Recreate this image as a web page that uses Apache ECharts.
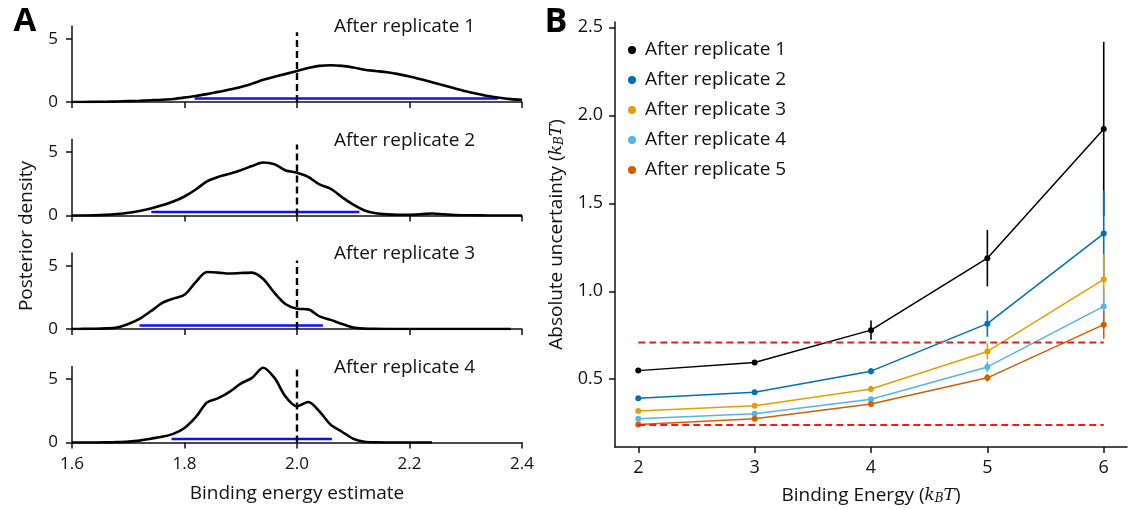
<!DOCTYPE html>
<html><head><meta charset="utf-8">
<script src="https://cdn.jsdelivr.net/npm/echarts/dist/echarts.min.js"></script>
<style>html,body{margin:0;padding:0;background:#fff}#c{width:1132px;height:510px}</style>
</head><body><div id="c"></div>
<script>
// ---------- Panel A data ----------
const densityX = [1.60,1.62,1.64,1.66,1.68,1.70,1.72,1.74,1.76,1.78,1.80,1.82,1.84,1.86,1.88,1.90,1.92,1.94,1.96,1.98,2.00,2.02,2.04,2.06,2.08,2.10,2.12,2.14,2.16,2.18,2.20,2.22,2.24,2.26,2.28,2.30,2.32,2.34,2.36,2.38,2.40];
const density1 = [0.00,0.00,0.01,0.02,0.04,0.07,0.10,0.14,0.18,0.24,0.35,0.48,0.62,0.80,0.98,1.18,1.45,1.75,2.00,2.22,2.45,2.68,2.85,2.90,2.85,2.72,2.55,2.45,2.35,2.20,2.02,1.80,1.56,1.32,1.08,0.85,0.65,0.47,0.33,0.23,0.17];
const density2 = [0,0,0.01,0.05,0.12,0.22,0.36,0.55,0.80,1.10,1.50,2.05,2.70,3.05,3.30,3.58,3.90,4.18,4.05,3.55,3.38,3.05,2.45,2.10,1.45,0.85,0.40,0.18,0.09,0.06,0.06,0.10,0.16,0.10,0.04,0.02,0.01,0,0,0,0];
const density3 = [0,0.01,0.02,0.05,0.12,0.40,0.80,1.40,2.05,2.40,2.70,3.70,4.50,4.45,4.38,4.42,4.45,3.95,2.85,1.95,1.60,1.55,1.00,0.72,0.40,0.12,0.03,0.01,0,0,0,0,0,0,0,0,0,0,0,0];
const density4 = [0,0,0,0.01,0.03,0.07,0.15,0.30,0.45,0.68,1.15,2.00,3.15,3.50,4.00,4.65,5.10,5.90,5.10,3.60,2.85,3.20,2.45,1.40,0.85,0.30,0.06,0.01,0,0,0,0,0];
const densities = [density1, density2, density3, density4];
const credibleLow  = [1.818, 1.741, 1.720, 1.777];
const credibleHigh = [2.357, 2.111, 2.046, 2.062];
const credibleLevel = 0.28;
const trueEnergy = 2.0;
const refLineTop = [5.5, 5.6, 5.4, 5.95];
const panelTitles = ['After replicate 1','After replicate 2','After replicate 3','After replicate 4'];
const yTicksA = [0, 5];

// ---------- Panel B data ----------
const energies = [2, 3, 4, 5, 6];
const seriesNames = ['After replicate 1','After replicate 2','After replicate 3','After replicate 4','After replicate 5'];
const unc1 = [0.549, 0.595, 0.779, 1.188, 1.922];
const unc2 = [0.392, 0.426, 0.546, 0.816, 1.328];
const unc3 = [0.319, 0.350, 0.445, 0.658, 1.067];
const unc4 = [0.276, 0.304, 0.386, 0.570, 0.914];
const unc5 = [0.243, 0.276, 0.359, 0.508, 0.810];
const err1 = [0.010, 0.012, 0.055, 0.160, 0.495];
const err2 = [0.008, 0.010, 0.018, 0.075, 0.245];
const err3 = [0.006, 0.008, 0.018, 0.045, 0.145];
const err4 = [0.006, 0.008, 0.012, 0.030, 0.100];
const err5 = [0.005, 0.007, 0.012, 0.022, 0.080];
const thresholds = [0.709, 0.240];
const xTicksB = [2, 3, 4, 5, 6];
const yTicksB = [0.5, 1.0, 1.5, 2.0, 2.5];

const colors = ['#000000', '#0072B2', '#E69F00', '#56B4E9', '#D55E00'];
const FONT = "'Open Sans', 'Noto Sans', sans-serif";
const AX = {color: '#111', width: 1.5};
const TXT = '#111';

const chart = echarts.init(document.getElementById('c'), null, {renderer: 'canvas'});

const zeroY = [102, 215.5, 329, 442.5];
const grid = zeroY.map(z => ({left: 72, width: 450, top: z - 76, height: 76}));
grid.push({left: 615, width: 512, top: 22, height: 427});

const xAxis = [], yAxis = [], series = [];
for (let i = 0; i < 4; i++) {
  xAxis.push({
    gridIndex: i, type: 'value', min: 1.6, max: 2.4, interval: 0.2,
    axisLine: {lineStyle: AX}, axisTick: {length: 6, lineStyle: AX},
    axisLabel: {show: i === 3, formatter: v => v.toFixed(1), fontSize: 17, color: TXT, fontFamily: FONT, margin: 13},
    splitLine: {show: false},
    name: i === 3 ? 'Binding energy estimate' : '', nameLocation: 'middle', nameGap: 42,
    nameTextStyle: {fontSize: 19, color: TXT, fontFamily: FONT}
  });
  yAxis.push({
    gridIndex: i, type: 'value', min: 0, max: 6,
    axisLine: {show: true, lineStyle: AX},
    axisTick: {show: true, length: 6, lineStyle: AX, customValues: yTicksA},
    axisLabel: {fontSize: 17, color: TXT, fontFamily: FONT, margin: 14, customValues: yTicksA},
    splitLine: {show: false}
  });
  series.push({
    type: 'line', xAxisIndex: i, yAxisIndex: i, showSymbol: false, smooth: 0.3,
    data: densities[i].map((d, k) => [densityX[k], d]),
    lineStyle: {color: '#000', width: 2.6}, itemStyle: {color: '#000'}, silent: true, z: 3
  });
  series.push({
    type: 'line', xAxisIndex: i, yAxisIndex: i, showSymbol: false,
    data: [[credibleLow[i], credibleLevel], [credibleHigh[i], credibleLevel]],
    lineStyle: {color: '#1010ee', width: 2.6}, silent: true, z: 2
  });
  series.push({
    type: 'line', xAxisIndex: i, yAxisIndex: i, showSymbol: false,
    data: [[trueEnergy, 0], [trueEnergy, refLineTop[i]]],
    lineStyle: {color: '#000', width: 2.4, type: [7, 4]}, silent: true, z: 4
  });
}

const kbt = '({it|k}{sub|B}{it|T})';
const richMath = {
  it: {fontStyle: 'italic', fontFamily: "'DejaVu Serif', serif", fontSize: 17, color: TXT},
  sub: {fontStyle: 'italic', fontFamily: "'DejaVu Serif', serif", fontSize: 12, color: TXT, verticalAlign: 'bottom', lineHeight: 15}
};
xAxis.push({
  gridIndex: 4, type: 'value', min: 1.8, max: 6.2,
  axisLine: {lineStyle: AX}, axisTick: {length: 6, lineStyle: AX, customValues: xTicksB},
  axisLabel: {fontSize: 18, color: TXT, fontFamily: FONT, margin: 12, customValues: xTicksB},
  splitLine: {show: false},
  name: 'Binding Energy ' + kbt, nameLocation: 'middle', nameGap: 39,
  nameTextStyle: {fontSize: 19, color: TXT, fontFamily: FONT, rich: richMath}
});
yAxis.push({
  gridIndex: 4, type: 'value', min: 0.115, max: 2.53,
  axisLine: {show: true, lineStyle: AX},
  axisTick: {show: true, length: 6, lineStyle: AX, customValues: yTicksB},
  axisLabel: {fontSize: 18, color: TXT, fontFamily: FONT, margin: 12, customValues: yTicksB, formatter: v => v.toFixed(1)},
  splitLine: {show: false},
  name: 'Absolute uncertainty ' + kbt, nameLocation: 'middle', nameGap: 49,
  nameTextStyle: {fontSize: 19, color: TXT, fontFamily: FONT, rich: richMath}
});

const uncs = [unc1, unc2, unc3, unc4, unc5];
const errs = [err1, err2, err3, err4, err5];
for (let s = 0; s < 5; s++) {
  series.push({
    name: 'err' + s, type: 'custom', xAxisIndex: 4, yAxisIndex: 4, silent: true, z: 2 + s * 2,
    data: energies.map((e, k) => [e, uncs[s][k] - errs[s][k], uncs[s][k] + errs[s][k]]),
    renderItem: (params, api) => {
      const p1 = api.coord([api.value(0), api.value(1)]);
      const p2 = api.coord([api.value(0), api.value(2)]);
      return {type: 'line', shape: {x1: p1[0], y1: p1[1], x2: p2[0], y2: p2[1]},
              style: {stroke: colors[s], lineWidth: 1.6}};
    }
  });
  series.push({
    name: seriesNames[s], type: 'line', xAxisIndex: 4, yAxisIndex: 4,
    data: energies.map((e, k) => [e, uncs[s][k]]),
    symbol: 'circle', symbolSize: 6, showSymbol: true,
    lineStyle: {color: colors[s], width: 1.5}, itemStyle: {color: colors[s]},
    z: 3 + s * 2, silent: true
  });
}
thresholds.forEach(t => series.push({
  type: 'line', xAxisIndex: 4, yAxisIndex: 4, showSymbol: false, silent: true, z: 20,
  data: [[energies[0], t], [energies[energies.length - 1], t]],
  lineStyle: {color: '#ee1c1c', width: 2, type: [7, 4]}
}));

chart.setOption({
  animation: false,
  grid, xAxis, yAxis, series,
  legend: {
    data: seriesNames, orient: 'vertical', left: 623, top: 35, itemGap: 10,
    icon: 'circle', itemWidth: 8, itemHeight: 8,
    textStyle: {fontSize: 19, lineHeight: 20, color: TXT, fontFamily: FONT, padding: [0, 0, 0, 4]}
  },
  graphic: [
    {type: 'text', x: 25, y: 22, style: {text: 'A', fontSize: 33, fontWeight: 'bold', fontFamily: FONT, fill: '#000', textAlign: 'center', textVerticalAlign: 'middle'}},
    {type: 'text', x: 556, y: 22, style: {text: 'B', fontSize: 34, fontWeight: 'bold', fontFamily: FONT, fill: '#000', textAlign: 'center', textVerticalAlign: 'middle'}},
    {type: 'text', x: 27, y: 236, rotation: Math.PI / 2, style: {text: 'Posterior density', fontSize: 19, fontFamily: FONT, fill: TXT, textAlign: 'center', textVerticalAlign: 'middle'}}
  ].concat(panelTitles.map((t, i) => ({
    type: 'text', x: 334, y: zeroY[i] - 75, style: {text: t, fontSize: 19, fontFamily: FONT, fill: TXT, textAlign: 'left', textVerticalAlign: 'middle'}
  })))
});
</script></body></html>
